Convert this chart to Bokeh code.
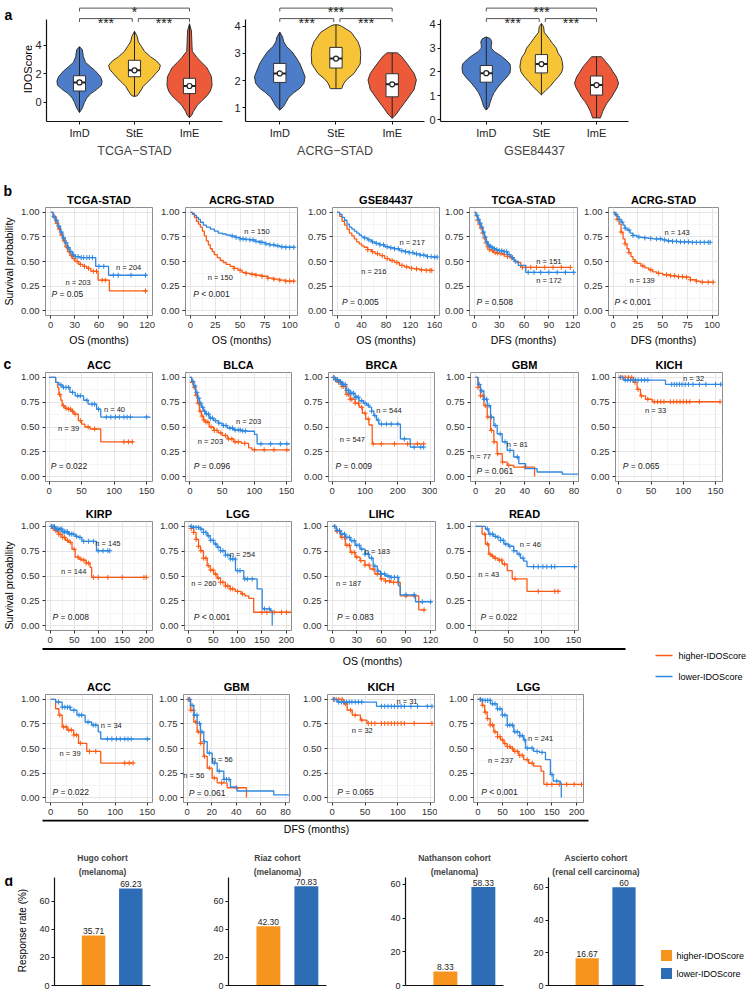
import numpy as np
from bokeh.plotting import figure
from bokeh.layouts import row, column
from bokeh.models import Range1d, FixedTicker, Title, NumeralTickFormatter
from bokeh.core.properties import value
from bokeh.embed import file_html
from bokeh.resources import INLINE

FONT = "Liberation Sans"
HI_COL = "#FC5A14"
LO_COL = "#2E88E0"
VIO_COLS = ["#4D7DC8", "#F7C438", "#EC5A3A"]
BAR_HI = "#F7941D"
BAR_LO = "#2C6DB6"

# ------------------------------------------------------------------ panel a data
VIO_GROUPS = ["ImD", "StE", "ImE"]
tcga_imd_y = [-0.7, -0.4, 0.0, 0.3, 0.6, 0.9, 1.2, 1.5, 1.8, 2.2, 2.5, 2.8, 3.2, 3.7, 3.9]
tcga_imd_w = [0.0, 0.05, 0.09, 0.13, 0.2, 0.31, 0.4, 0.41, 0.38, 0.29, 0.2, 0.11, 0.07, 0.05, 0.0]
tcga_ste_y = [0.42, 0.47, 0.8, 1.13, 1.4, 1.69, 2.0, 2.3, 2.6, 2.91, 3.2, 3.58, 3.9, 4.24, 4.6, 4.98]
tcga_ste_w = [0.0, 0.05, 0.11, 0.16, 0.23, 0.31, 0.38, 0.45, 0.47, 0.4, 0.29, 0.18, 0.13, 0.07, 0.05, 0.0]
tcga_ime_y = [-1.07, -0.9, -0.64, -0.2, 0.1, 0.47, 0.8, 1.2, 1.8, 2.1, 2.47, 2.8, 3.13, 3.58, 4.0, 5.0, 5.5]
tcga_ime_w = [0.0, 0.04, 0.07, 0.14, 0.22, 0.32, 0.38, 0.41, 0.4, 0.36, 0.31, 0.22, 0.14, 0.05, 0.045, 0.035, 0.0]
tcga_q1 = [0.8, 1.8, 0.62]
tcga_med = [1.4, 2.25, 1.15]
tcga_q3 = [1.87, 2.95, 1.69]
tcga_sig = ["***", "***", "*"]

acrg_imd_y = [0.91, 1.05, 1.2, 1.38, 1.55, 1.72, 1.9, 2.14, 2.35, 2.61, 2.85, 3.08, 3.25, 3.43, 3.6, 3.78]
acrg_imd_w = [0.0, 0.07, 0.11, 0.16, 0.25, 0.36, 0.43, 0.45, 0.41, 0.36, 0.29, 0.21, 0.12, 0.07, 0.05, 0.0]
acrg_ste_y = [1.7, 1.9, 2.05, 2.26, 2.61, 2.96, 3.2, 3.43, 3.78, 4.0, 4.05]
acrg_ste_w = [0.1, 0.14, 0.2, 0.32, 0.43, 0.44, 0.43, 0.39, 0.27, 0.1, 0.04]
acrg_ime_y = [0.61, 0.75, 0.96, 1.32, 1.67, 2.02, 2.26, 2.61, 2.9, 3.02]
acrg_ime_w = [0.0, 0.07, 0.14, 0.27, 0.39, 0.43, 0.39, 0.27, 0.16, 0.09]
acrg_q1 = [1.93, 2.46, 1.4]
acrg_med = [2.26, 2.81, 1.86]
acrg_q3 = [2.63, 3.22, 2.25]
acrg_sig = ["***", "***", "***"]

gse_imd_y = [0.4, 0.55, 0.73, 0.93, 1.13, 1.33, 1.53, 1.75, 1.96, 2.15, 2.33, 2.5, 2.67, 2.85, 3.0, 3.1, 3.27, 3.4, 3.47]
gse_imd_w = [0.0, 0.05, 0.07, 0.1, 0.14, 0.2, 0.27, 0.36, 0.43, 0.44, 0.43, 0.36, 0.27, 0.15, 0.09, 0.09, 0.1, 0.07, 0.0]
gse_ste_y = [1.04, 1.2, 1.4, 1.6, 1.8, 2.0, 2.2, 2.4, 2.6, 2.8, 3.0, 3.2, 3.4, 3.67, 3.9, 4.03]
gse_ste_w = [0.0, 0.07, 0.16, 0.23, 0.31, 0.37, 0.39, 0.38, 0.36, 0.3, 0.27, 0.2, 0.14, 0.05, 0.04, 0.0]
gse_ime_y = [0.07, 0.2, 0.33, 0.53, 0.73, 0.93, 1.13, 1.33, 1.53, 1.8, 2.0, 2.2, 2.45, 2.64]
gse_ime_w = [0.07, 0.09, 0.11, 0.15, 0.2, 0.27, 0.32, 0.37, 0.4, 0.36, 0.3, 0.25, 0.16, 0.09]
gse_q1 = [1.57, 1.96, 1.03]
gse_med = [1.95, 2.33, 1.45]
gse_q3 = [2.27, 2.73, 1.83]
gse_sig = ["***", "***", "***"]

# ------------------------------------------------------------------ panel b data (KM)
tcga_os_hi_t = [0, 3, 6, 9, 12, 15, 18, 21, 24, 27, 30, 35, 40, 45, 50, 59, 73, 120]
tcga_os_hi_s = [1, 0.95, 0.89, 0.83, 0.77, 0.71, 0.65, 0.6, 0.56, 0.53, 0.5, 0.47, 0.45, 0.43, 0.4, 0.31, 0.2, 0.2]
tcga_os_hi_c = [5, 8, 11, 14, 17, 20, 23, 26, 29, 33, 37, 42, 47, 53, 57, 64, 68, 118]
tcga_os_lo_t = [0, 3, 6, 9, 12, 15, 18, 21, 24, 27, 30, 36, 56, 72, 120]
tcga_os_lo_s = [1, 0.96, 0.92, 0.86, 0.8, 0.74, 0.69, 0.64, 0.6, 0.57, 0.55, 0.54, 0.45, 0.36, 0.36]
tcga_os_lo_c = [4, 7, 10, 13, 16, 19, 22, 25, 28, 31, 34, 38, 41, 45, 48, 52, 60, 66, 78, 84, 100, 118]

acrg_os_hi_t = [0, 2, 4, 6, 8, 10, 12, 14, 16, 18, 20, 22, 24, 27, 30, 33, 36, 40, 44, 48, 52, 56, 60, 66, 72, 78, 84, 90, 96, 105]
acrg_os_hi_s = [1, 0.98, 0.95, 0.91, 0.88, 0.85, 0.81, 0.76, 0.71, 0.67, 0.63, 0.6, 0.57, 0.54, 0.51, 0.49, 0.47, 0.45, 0.43, 0.41, 0.39, 0.38, 0.37, 0.36, 0.35, 0.33, 0.32, 0.31, 0.3, 0.3]
acrg_os_hi_c = [44, 50, 56, 62, 66, 72, 78, 84, 90, 96, 100, 104]
acrg_os_lo_t = [0, 2, 4, 6, 8, 10, 13, 16, 20, 24, 28, 32, 36, 40, 45, 50, 55, 60, 65, 70, 75, 80, 85, 90, 95, 105]
acrg_os_lo_s = [1, 0.99, 0.97, 0.95, 0.93, 0.9, 0.87, 0.85, 0.83, 0.81, 0.79, 0.78, 0.77, 0.76, 0.745, 0.73, 0.725, 0.72, 0.705, 0.695, 0.68, 0.67, 0.66, 0.65, 0.645, 0.645]
acrg_os_lo_c = [42, 46, 50, 53, 56, 60, 63, 66, 70, 72, 76, 80, 84, 88, 92, 96, 100, 104]

gse_os_hi_t = [0, 4, 8, 12, 16, 20, 24, 28, 32, 36, 40, 44, 50, 56, 62, 70, 78, 86, 94, 102, 110, 118, 126, 135, 145, 155]
gse_os_hi_s = [1, 0.96, 0.91, 0.87, 0.83, 0.79, 0.76, 0.73, 0.7, 0.68, 0.66, 0.645, 0.62, 0.6, 0.58, 0.56, 0.53, 0.51, 0.49, 0.46, 0.445, 0.43, 0.425, 0.415, 0.41, 0.41]
gse_os_hi_c = [50, 58, 66, 74, 82, 90, 98, 106, 114, 122, 130, 138, 146, 152, 155]
gse_os_lo_t = [0, 4, 8, 12, 16, 20, 24, 28, 32, 36, 40, 44, 50, 56, 62, 70, 78, 86, 94, 102, 110, 118, 126, 136, 146, 156, 164]
gse_os_lo_s = [1, 0.98, 0.95, 0.92, 0.88, 0.85, 0.83, 0.81, 0.79, 0.77, 0.75, 0.74, 0.72, 0.7, 0.685, 0.67, 0.65, 0.64, 0.63, 0.61, 0.6, 0.59, 0.577, 0.565, 0.55, 0.545, 0.545]
gse_os_lo_c = [45, 52, 58, 64, 70, 76, 82, 88, 94, 100, 106, 112, 118, 124, 130, 136, 142, 148, 154, 160, 164]

tcga_dfs_hi_t = [0, 2, 4, 6, 8, 10, 12, 14, 16, 18, 20, 23, 26, 30, 35, 40, 44, 48, 52, 56, 116]
tcga_dfs_hi_s = [1, 0.96, 0.92, 0.88, 0.84, 0.79, 0.74, 0.69, 0.65, 0.62, 0.61, 0.59, 0.585, 0.58, 0.57, 0.55, 0.537, 0.5, 0.49, 0.44, 0.44]
tcga_dfs_hi_c = [4, 6, 8, 10, 12, 14, 16, 18, 22, 25, 28, 32, 36, 40, 45, 58, 62, 68, 75, 85, 95, 105, 116]
tcga_dfs_lo_t = [0, 2, 4, 6, 8, 10, 12, 14, 16, 18, 20, 23, 26, 30, 35, 40, 44, 48, 53, 62, 122]
tcga_dfs_lo_s = [1, 0.97, 0.93, 0.89, 0.85, 0.8, 0.75, 0.7, 0.67, 0.655, 0.645, 0.63, 0.62, 0.61, 0.6, 0.57, 0.54, 0.5, 0.46, 0.39, 0.39]
tcga_dfs_lo_c = [3, 5, 7, 9, 11, 13, 15, 17, 19, 21, 24, 27, 30, 33, 36, 39, 42, 46, 50, 65, 72, 80, 90, 100, 110, 120]

acrg_dfs_hi_t = [0, 2, 4, 6, 8, 10, 12, 14, 16, 18, 20, 22, 24, 28, 32, 36, 40, 44, 50, 58, 64, 71, 78, 84, 88, 101.6]
acrg_dfs_hi_s = [1, 0.97, 0.93, 0.88, 0.8, 0.73, 0.68, 0.63, 0.59, 0.55, 0.52, 0.5, 0.48, 0.455, 0.435, 0.415, 0.395, 0.38, 0.365, 0.355, 0.345, 0.34, 0.314, 0.3, 0.29, 0.29]
acrg_dfs_hi_c = [4, 8, 12, 16, 22, 30, 38, 46, 54, 58, 62, 66, 70, 74, 78, 84, 90, 96, 101]
acrg_dfs_lo_t = [0, 2, 4, 6, 8, 10, 12, 14, 17, 20, 24, 28, 32, 36, 40, 44, 50, 54, 60, 66, 72, 78, 98]
acrg_dfs_lo_s = [1, 0.98, 0.96, 0.93, 0.9, 0.87, 0.84, 0.82, 0.79, 0.765, 0.75, 0.745, 0.74, 0.735, 0.73, 0.73, 0.72, 0.71, 0.705, 0.7, 0.7, 0.695, 0.695]
acrg_dfs_lo_c = [3, 6, 9, 12, 16, 20, 26, 32, 38, 44, 48, 52, 56, 60, 64, 68, 72, 76, 80, 84, 88, 92, 96, 98]

# ------------------------------------------------------------------ panel c data (OS, pan-cancer)
acc_os_hi_t = [0, 10, 13, 15, 18, 20, 24, 28, 34, 38, 45, 50, 55, 63, 79.5, 130]
acc_os_hi_s = [1, 0.95, 0.9, 0.83, 0.77, 0.715, 0.69, 0.68, 0.66, 0.63, 0.565, 0.53, 0.5, 0.48, 0.35, 0.35]
acc_os_hi_c = [16, 22, 26, 30, 33, 36, 40, 48, 60, 70, 115, 122, 128]
acc_os_lo_t = [0, 10, 15, 20, 32, 40, 53, 60, 73, 79.5, 156]
acc_os_lo_s = [1, 0.95, 0.925, 0.9, 0.85, 0.815, 0.77, 0.73, 0.68, 0.6, 0.6]
acc_os_lo_c = [18, 22, 26, 30, 36, 44, 48, 58, 66, 70, 76, 88, 95, 102, 108, 115, 120, 125, 150]

blca_os_hi_t = [0, 3, 6, 9, 12, 15, 18, 21, 24, 30, 37, 44, 50, 58, 68, 80, 91, 96, 155]
blca_os_hi_s = [1, 0.95, 0.9, 0.82, 0.74, 0.66, 0.61, 0.57, 0.55, 0.5, 0.465, 0.44, 0.415, 0.38, 0.35, 0.335, 0.29, 0.27, 0.27]
blca_os_hi_c = [4, 7, 10, 13, 16, 19, 22, 25, 28, 33, 38, 42, 48, 55, 60, 65, 70, 75, 85, 100, 115, 130, 150]
blca_os_lo_t = [0, 3, 6, 9, 12, 15, 18, 21, 24, 30, 37, 44, 50, 58, 68, 80, 89, 100, 104, 155]
blca_os_lo_s = [1, 0.96, 0.915, 0.85, 0.79, 0.74, 0.7, 0.66, 0.63, 0.59, 0.565, 0.54, 0.515, 0.49, 0.47, 0.46, 0.457, 0.425, 0.33, 0.33]
blca_os_lo_c = [5, 8, 11, 14, 17, 20, 23, 26, 29, 32, 35, 40, 45, 52, 56, 62, 66, 70, 75, 78, 82, 86, 110, 125, 140, 150]

brca_os_hi_t = [0, 10, 20, 30, 42, 55, 70, 82, 92, 102, 112, 122, 279]
brca_os_hi_s = [1, 0.975, 0.95, 0.91, 0.83, 0.78, 0.74, 0.7, 0.64, 0.58, 0.52, 0.33, 0.33]
brca_os_hi_c = [5, 10, 15, 20, 25, 30, 35, 40, 45, 50, 55, 60, 70, 80, 90, 100, 110, 125, 150, 190, 230, 260, 279]
brca_os_lo_t = [0, 10, 20, 30, 42, 55, 70, 82, 95, 105, 112, 120, 127, 135, 142, 208, 238, 279]
brca_os_lo_s = [1, 0.98, 0.96, 0.93, 0.87, 0.84, 0.8, 0.765, 0.74, 0.72, 0.7, 0.66, 0.615, 0.57, 0.53, 0.38, 0.297, 0.297]
brca_os_lo_c = [5, 10, 15, 20, 25, 30, 35, 40, 45, 50, 55, 60, 65, 70, 75, 80, 90, 100, 110, 120, 130, 140, 150, 165, 180, 200, 220, 250, 270, 279]

gbm_os_hi_t = [0, 2, 4, 6.8, 9.5, 12.2, 14.9, 17.6, 21.7, 25.7, 31, 48]
gbm_os_hi_s = [1, 0.9, 0.815, 0.715, 0.6, 0.465, 0.35, 0.23, 0.146, 0.113, 0.096, 0.0]
gbm_os_hi_c = [2, 4, 6, 8, 10, 13, 15, 18, 22, 27, 40]
gbm_os_lo_t = [0, 2, 4, 6.8, 9.5, 12.2, 14.9, 17.6, 21.7, 25.7, 31, 35.2, 40.7, 50, 70.5, 84]
gbm_os_lo_s = [1, 0.93, 0.865, 0.78, 0.715, 0.6, 0.515, 0.43, 0.35, 0.264, 0.197, 0.13, 0.08, 0.046, 0.025, 0.025]
gbm_os_lo_c = [3, 5, 7, 9, 11, 13, 16, 20, 24, 28, 34]

kich_os_hi_t = [0, 23, 28.4, 33.6, 41.4, 51.8, 157]
kich_os_hi_s = [1, 0.95, 0.88, 0.815, 0.78, 0.755, 0.755]
kich_os_hi_c = [2, 6, 10, 15, 20, 25, 30, 35, 45, 55, 60, 65, 70, 80, 85, 90, 95, 100, 105, 110, 125, 157]
kich_os_lo_t = [0, 7.8, 72.4, 160]
kich_os_lo_s = [1, 0.973, 0.93, 0.93]
kich_os_lo_c = [3, 10, 14, 18, 22, 26, 30, 35, 40, 45, 82, 86, 90, 94, 98, 103, 108, 115, 125, 135, 150, 158]

kirp_os_hi_t = [0, 5, 11.6, 18, 25, 32, 38.7, 45.5, 52, 60, 66, 75, 83, 86.3, 200]
kirp_os_hi_s = [1, 0.98, 0.957, 0.92, 0.89, 0.86, 0.84, 0.77, 0.69, 0.67, 0.66, 0.63, 0.587, 0.486, 0.486]
kirp_os_hi_c = [3, 6, 9, 12, 15, 18, 22, 26, 30, 36, 42, 50, 58, 64, 70, 75, 80, 90, 100, 120, 150, 195, 200]
kirp_os_lo_t = [0, 11.6, 25, 38.7, 52, 59, 66, 96.5, 124]
kirp_os_lo_s = [1, 0.974, 0.946, 0.923, 0.9, 0.89, 0.85, 0.755, 0.755]
kirp_os_lo_c = [3, 6, 9, 12, 15, 18, 21, 24, 27, 30, 33, 36, 40, 44, 48, 55, 62, 70, 80, 90, 100, 110, 120, 124]

lgg_os_hi_t = [0, 5, 10, 15, 20, 24, 30, 37.7, 44, 51, 58, 65, 75, 85, 95, 106.9, 115, 123, 133, 210]
lgg_os_hi_s = [1, 0.98, 0.94, 0.87, 0.8, 0.755, 0.68, 0.604, 0.56, 0.52, 0.48, 0.436, 0.4, 0.37, 0.345, 0.32, 0.3, 0.275, 0.134, 0.134]
lgg_os_hi_c = [5, 10, 15, 20, 25, 30, 35, 40, 45, 50, 55, 60, 65, 70, 75, 80, 85, 90, 100, 110, 150, 160, 175, 190, 200]
lgg_os_lo_t = [0, 10, 24, 30, 37.7, 44, 51, 58, 65, 75, 85, 95.7, 112.7, 140, 150.4, 167.4, 171]
lgg_os_lo_s = [1, 0.99, 0.974, 0.94, 0.906, 0.86, 0.823, 0.79, 0.755, 0.71, 0.672, 0.554, 0.47, 0.37, 0.168, 0.15, 0.0]
lgg_os_lo_c = [5, 10, 15, 20, 25, 30, 35, 40, 45, 50, 55, 60, 65, 70, 75, 80, 85, 90, 95, 100, 105, 115, 120, 130, 155, 165]

lihc_os_hi_t = [0, 5, 10, 16, 22, 28, 34, 40, 46, 52, 59, 65, 71, 83, 105.6, 113.8]
lihc_os_hi_s = [1, 0.95, 0.89, 0.81, 0.738, 0.69, 0.655, 0.61, 0.57, 0.52, 0.47, 0.45, 0.436, 0.3, 0.158, 0.158]
lihc_os_hi_c = [3, 6, 9, 12, 15, 18, 21, 24, 27, 30, 35, 40, 45, 50, 55, 60, 65, 70, 75, 80, 90, 100, 112]
lihc_os_lo_t = [0, 5, 10, 16, 22, 28, 34, 40, 45, 50, 55, 59, 65, 71, 81, 83, 101.6, 122]
lihc_os_lo_s = [1, 0.96, 0.923, 0.89, 0.856, 0.81, 0.772, 0.72, 0.68, 0.6, 0.55, 0.52, 0.5, 0.486, 0.4, 0.31, 0.24, 0.24]
lihc_os_lo_c = [3, 6, 9, 12, 15, 18, 21, 24, 27, 30, 33, 36, 40, 44, 48, 52, 56, 60, 64, 68, 72, 76, 80, 90, 100, 110, 120]

read_os_hi_t = [0, 10, 15, 20, 24, 27.8, 34, 40.4, 48, 55.6, 78, 128.8]
read_os_hi_s = [1, 0.923, 0.823, 0.72, 0.7, 0.68, 0.66, 0.62, 0.554, 0.47, 0.345, 0.345]
read_os_hi_c = [14, 18, 22, 26, 30, 36, 40, 44, 60, 95, 120, 125]
read_os_lo_t = [0, 15, 20, 27, 33, 38, 43, 50, 58, 63, 68, 73, 78, 154]
read_os_lo_s = [1, 0.974, 0.923, 0.9, 0.89, 0.86, 0.823, 0.8, 0.755, 0.72, 0.68, 0.65, 0.594, 0.594]
read_os_lo_c = [18, 22, 26, 30, 34, 38, 42, 46, 52, 58, 66, 72, 88, 95, 102, 108, 115, 120, 150]

# ------------------------------------------------------------------ panel c data (DFS)
acc_dfs_hi_t = [0, 7.6, 12.7, 17.8, 25.4, 35.6, 43.2, 56, 77.7, 128.6]
acc_dfs_hi_s = [1, 0.905, 0.84, 0.72, 0.688, 0.638, 0.553, 0.47, 0.352, 0.352]
acc_dfs_hi_c = [14, 20, 24, 28, 32, 36, 40, 46, 60, 70, 115, 122, 128]
acc_dfs_lo_t = [0, 7.6, 17.8, 30.5, 40.7, 53.4, 63.6, 73.8, 77.7, 155]
acc_dfs_lo_s = [1, 0.973, 0.92, 0.89, 0.84, 0.77, 0.738, 0.67, 0.597, 0.597]
acc_dfs_lo_c = [12, 18, 22, 26, 30, 36, 44, 48, 58, 66, 70, 88, 95, 102, 108, 115, 120, 125, 150]

gbm_dfs_hi_t = [0, 2.7, 5.4, 8.1, 10.8, 13.5, 16.3, 20.3, 24.4, 32.5, 48.2]
gbm_dfs_hi_s = [1, 0.89, 0.77, 0.67, 0.553, 0.42, 0.3, 0.2, 0.15, 0.1, 0.0]
gbm_dfs_hi_c = [1, 3, 5, 7, 9, 11, 14, 18, 22, 28, 40]
gbm_dfs_lo_t = [0, 2.7, 5.4, 8.1, 10.8, 13.5, 16.3, 20.3, 24.4, 29.8, 35.2, 40.6, 70.4, 83]
gbm_dfs_lo_s = [1, 0.94, 0.84, 0.755, 0.67, 0.57, 0.453, 0.352, 0.269, 0.185, 0.108, 0.067, 0.027, 0.027]
gbm_dfs_lo_c = [2, 4, 6, 8, 10, 12, 14, 18, 22, 26, 30, 32, 34]

kich_dfs_hi_t = [0, 17.7, 22.8, 30.5, 43, 53, 152]
kich_dfs_hi_s = [1, 0.955, 0.89, 0.84, 0.79, 0.755, 0.755]
kich_dfs_hi_c = [2, 6, 10, 15, 20, 28, 35, 45, 55, 60, 65, 75, 80, 85, 90, 95, 100, 105, 110, 125, 152]
kich_dfs_lo_t = [0, 7.6, 67.5, 152]
kich_dfs_lo_s = [1, 0.973, 0.93, 0.93]
kich_dfs_lo_c = [3, 10, 14, 18, 22, 26, 30, 35, 40, 45, 75, 80, 85, 90, 95, 100, 105, 110, 120, 130, 145, 152]

lgg_dfs_hi_t = [0, 8.8, 14, 19, 25, 32.4, 40, 46, 53, 59.5, 66, 72.9, 83, 93, 103, 113, 128, 133.6, 211]
lgg_dfs_hi_s = [1, 0.94, 0.87, 0.805, 0.74, 0.67, 0.62, 0.587, 0.55, 0.52, 0.5, 0.47, 0.43, 0.386, 0.35, 0.32, 0.269, 0.135, 0.135]
lgg_dfs_hi_c = [5, 10, 15, 20, 25, 30, 35, 40, 45, 50, 55, 60, 65, 70, 75, 80, 85, 90, 100, 110, 140, 150, 165, 180, 195, 210]
lgg_dfs_lo_t = [0, 10, 25.7, 39.2, 49.4, 59.5, 72.9, 85, 93, 96.6, 113, 125, 137, 147, 152.6, 167, 169]
lgg_dfs_lo_s = [1, 0.99, 0.955, 0.905, 0.84, 0.738, 0.67, 0.63, 0.587, 0.503, 0.47, 0.46, 0.386, 0.235, 0.168, 0.15, 0.0]
lgg_dfs_lo_c = [5, 10, 15, 20, 25, 30, 35, 40, 45, 50, 55, 60, 65, 70, 75, 80, 85, 90, 95, 100, 110, 120, 130, 150, 160]

KM_YTICKS = [0, 0.25, 0.5, 0.75, 1.0]
KM_YMINOR = [0.125, 0.375, 0.625, 0.875]

# ------------------------------------------------------------------ panel d data
bar_cohorts = ["Hugo cohort", "Riaz cohort", "Nathanson cohort", "Ascierto cohort"]
bar_types = ["(melanoma)", "(melanoma)", "(melanoma)", "(renal cell carcinoma)"]
bar_hi = [35.71, 42.30, 8.33, 16.67]
bar_lo = [69.23, 70.83, 58.33, 60.0]
bar_hi_lab = ["35.71", "42.30", "8.33", "16.67"]
bar_lo_lab = ["69.23", "70.83", "58.33", "60"]
bar_yticks = [0, 20, 40, 60]
legend_labels = ["higher-IDOScore", "lower-IDOScore"]


# ------------------------------------------------------------------ helpers
def canvas(w, h, top=0, bottom=0):
    """Blank figure whose frame is the strip between the given borders;
    its coordinates are pixels measured from the frame's top-left corner."""
    fh = h - top - bottom
    p = figure(width=w, height=h, x_range=Range1d(0, w), y_range=Range1d(fh, 0),
               toolbar_location=None, output_backend="svg", title=None,
               x_axis_location=None, y_axis_location=None,
               min_border=0, min_border_left=0, min_border_right=0,
               min_border_top=top, min_border_bottom=bottom)
    p.outline_line_color = None
    p.grid.visible = False
    return p


def letter(p, s, standoff):
    p.add_layout(Title(text=s, align="left", offset=3, text_font=FONT, text_font_size="14px",
                       text_font_style="bold", text_color="black", standoff=standoff), "above")


def put(p, x, y, s, size, align="left", baseline="middle", style="normal",
        angle=0.0, color="black", x_offset=0, y_offset=0):
    p.text(x=[x], y=[y], text=[s], text_font=value(FONT), text_font_size=f"{size}px",
           text_align=align, text_baseline=baseline, text_font_style=style,
           text_color=color, angle=angle, x_offset=x_offset, y_offset=y_offset)


def step_at(t, s, q):
    t = np.asarray(t, float)
    s = np.asarray(s, float)
    idx = np.searchsorted(t, np.asarray(q, float), side="right") - 1
    return s[np.clip(idx, 0, len(s) - 1)]


def km_panel(title, xr, xticks, lay, hi, lo, n_hi, n_lo, pval, xlabel=None):
    left, fw, right, top, fh, bottom = lay
    p = figure(width=left + fw + right, height=top + fh + bottom, title=title,
               x_range=Range1d(*xr), y_range=Range1d(-0.05, 1.05),
               toolbar_location=None, output_backend="svg",
               min_border_left=left, min_border_right=right,
               min_border_top=top, min_border_bottom=bottom)
    p.title.align = "center"
    p.title.text_font = FONT
    p.title.text_font_size = "11px"
    p.title.text_font_style = "bold"
    p.title.text_color = "black"
    p.title.standoff = 3
    p.outline_line_color = "#8C8C8C"
    p.outline_line_width = 1
    stp = xticks[1] - xticks[0]
    xminor = [x + stp / 2 for x in [xticks[0] - stp] + list(xticks)]
    xt = FixedTicker(ticks=list(xticks), minor_ticks=xminor)
    yt = FixedTicker(ticks=KM_YTICKS, minor_ticks=KM_YMINOR)
    p.xaxis.ticker = xt
    p.yaxis.ticker = yt
    p.xgrid.ticker = xt
    p.ygrid.ticker = yt
    p.yaxis.formatter = NumeralTickFormatter(format="0.00")
    for g in p.grid:
        g.grid_line_color = "#E6E6E6"
        g.grid_line_width = 1
        g.minor_grid_line_color = "#F2F2F2"
        g.minor_grid_line_width = 0.8
    for ax in p.axis:
        ax.axis_line_color = None
        ax.major_tick_line_color = "#333333"
        ax.major_tick_out = 3
        ax.major_tick_in = 0
        ax.minor_tick_line_color = None
        ax.major_label_text_font = FONT
        ax.major_label_text_font_size = "9.5px"
        ax.major_label_text_color = "#333333"
        ax.major_label_standoff = 2
    if xlabel:
        p.xaxis.axis_label = xlabel
        p.xaxis.axis_label_text_font = FONT
        p.xaxis.axis_label_text_font_size = "10.5px"
        p.xaxis.axis_label_text_font_style = "normal"
        p.xaxis.axis_label_text_color = "black"
        p.xaxis.axis_label_standoff = 3
    for (t, s, c), col in ((hi, HI_COL), (lo, LO_COL)):
        p.step(t, s, mode="after", line_color=col, line_width=1.3)
        p.scatter(c, step_at(t, s, c), marker="cross", size=5, line_color=col, line_width=1)
    put(p, n_hi[0], n_hi[1], n_hi[2], 7.5, align="center", color="#222222")
    put(p, n_lo[0], n_lo[1], n_lo[2], 7.5, align="center", color="#222222")
    put(p, pval[0], pval[1], "P", 8.5, style="italic", color="#222222")
    put(p, pval[0], pval[1], pval[2], 8.5, color="#222222", x_offset=8)
    return p


def violin_panel(ys, ws, q1, med, q3, sig, xr, yr, ytop, yticks, lay, xlabel):
    left, fw, right, top, fh, bottom = lay
    p = figure(width=left + fw + right, height=top + fh + bottom, title=None,
               x_range=Range1d(*xr), y_range=Range1d(*yr),
               toolbar_location=None, output_backend="svg",
               min_border_left=left, min_border_right=right,
               min_border_top=top, min_border_bottom=bottom)
    p.outline_line_color = None
    p.grid.visible = False
    p.xaxis.ticker = FixedTicker(ticks=[1, 2, 3])
    p.xaxis.major_label_overrides = {i + 1: g for i, g in enumerate(VIO_GROUPS)}
    p.yaxis.ticker = FixedTicker(ticks=yticks)
    p.yaxis.bounds = (yr[0], ytop)
    for ax in p.axis:
        ax.axis_line_color = "#111111"
        ax.axis_line_width = 1.2
        ax.major_tick_line_color = "#111111"
        ax.major_tick_out = 3
        ax.major_tick_in = 0
        ax.minor_tick_line_color = None
        ax.major_label_text_font = FONT
        ax.major_label_text_font_size = "11px"
        ax.major_label_text_color = "#222222"
        ax.major_label_standoff = 2
    p.xaxis.axis_label = xlabel
    p.xaxis.axis_label_text_font = FONT
    p.xaxis.axis_label_text_font_size = "12.5px"
    p.xaxis.axis_label_text_font_style = "normal"
    p.xaxis.axis_label_standoff = 2
    bw = 0.11
    for i, (y, w) in enumerate(zip(ys, ws)):
        c = i + 1
        y = np.asarray(y, float)
        w = np.asarray(w, float)
        p.patch(np.concatenate([c - w, (c + w)[::-1]]), np.concatenate([y, y[::-1]]),
                fill_color=VIO_COLS[i], line_color="#333333", line_width=1)
        p.segment(x0=[c], y0=[y.min()], x1=[c], y1=[y.max()], line_color="#222222", line_width=1)
        p.quad(left=[c - bw], right=[c + bw], bottom=[q1[i]], top=[q3[i]],
               fill_color="white", line_color="#333333", line_width=1)
        p.segment(x0=[c - bw], y0=[med[i]], x1=[c + bw], y1=[med[i]], line_color="#222222", line_width=2)
        p.scatter([c], [med[i]], marker="circle", size=5, fill_color="white",
                  line_color="#222222", line_width=1.2)
    # significance brackets (lower level 19 px, upper level 8 px below the frame top)
    per_px = (yr[1] - yr[0]) / fh
    y_low = yr[1] - 19 * per_px
    y_up = yr[1] - 8 * per_px
    tip = 3.5 * per_px
    pairs = [(1.0, 1.96), (2.07, 3.0), (1.0, 3.0)]
    levels = [y_low, y_low, y_up]
    xs = [[a, a, b, b] for a, b in pairs]
    yss = [[lv - tip, lv, lv, lv - tip] for lv in levels]
    p.multi_line(xs, yss, line_color="#555555", line_width=1)
    p.text(x=[(a + b) / 2 for a, b in pairs], y=levels, text=sig,
           text_font=value(FONT), text_font_size="14px", text_align="center",
           text_baseline="alphabetic", y_offset=4, text_color="#222222")
    return p


def bar_panel(i, xr, yr, lay):
    left, fw, right, top, fh, bottom = lay
    p = figure(width=left + fw + right, height=top + fh + bottom, title=None,
               x_range=Range1d(*xr), y_range=Range1d(*yr),
               toolbar_location=None, output_backend="svg",
               min_border_left=left, min_border_right=right,
               min_border_top=top, min_border_bottom=bottom)
    p.add_layout(Title(text=bar_types[i], align="center", text_font=FONT, text_font_size="8.5px",
                       text_font_style="bold", standoff=2), "above")
    p.add_layout(Title(text=bar_cohorts[i], align="center", text_font=FONT, text_font_size="8.5px",
                       text_font_style="bold", standoff=1), "above")
    p.outline_line_color = None
    p.grid.visible = False
    p.xaxis.ticker = FixedTicker(ticks=[])
    p.yaxis.ticker = FixedTicker(ticks=bar_yticks)
    for ax in p.axis:
        ax.axis_line_color = "#111111"
        ax.axis_line_width = 1.2
        ax.major_tick_line_color = "#111111"
        ax.major_tick_out = 3
        ax.major_tick_in = 0
        ax.minor_tick_line_color = None
        ax.major_label_text_font = FONT
        ax.major_label_text_font_size = "9px"
        ax.major_label_text_color = "#222222"
        ax.major_label_standoff = 2
    p.vbar(x=[1, 2], top=[bar_hi[i], bar_lo[i]], bottom=0, width=0.63,
           fill_color=[BAR_HI, BAR_LO], line_color=None)
    p.text(x=[1, 2], y=[bar_hi[i], bar_lo[i]], text=[bar_hi_lab[i], bar_lo_lab[i]],
           text_font=value(FONT), text_font_size="8.5px", text_align="center",
           text_baseline="bottom", y_offset=-1, text_color="#222222")
    return p


# ------------------------------------------------------------------ row a  (y 0..160)
gA = canvas(32, 160, 0, 33)
put(gA, 4, 15, "a", 14, style="bold")
put(gA, 27, 72, "IDOScore", 11, align="center", angle=np.pi / 2)
v1 = violin_panel([tcga_imd_y, tcga_ste_y, tcga_ime_y], [tcga_imd_w, tcga_ste_w, tcga_ime_w],
                  tcga_q1, tcga_med, tcga_q3, tcga_sig, (0.4, 3.6), (-1.333, 7.133), 5.8,
                  [0, 2, 4], (12, 178, 8, 0, 127, 33), "TCGA\u2212STAD")
v2 = violin_panel([acrg_imd_y, acrg_ste_y, acrg_ime_y], [acrg_imd_w, acrg_ste_w, acrg_ime_w],
                  acrg_q1, acrg_med, acrg_q3, acrg_sig, (0.39, 3.575), (0.491, 4.947), 4.246,
                  [1, 2, 3, 4], (15, 179, 2, 0, 127, 33), "ACRG\u2212STAD")
v3 = violin_panel([gse_imd_y, gse_ste_y, gse_ime_y], [gse_imd_w, gse_ste_w, gse_ime_w],
                  gse_q1, gse_med, gse_q3, gse_sig, (0.169, 3.58), (-0.08, 5.0), 4.2,
                  [0, 1, 2, 3, 4], (12, 190, 5, 0, 127, 33), "GSE84437")
rowA = row(gA, v1, v2, v3)

# ------------------------------------------------------------------ row b  (y 160..348)
LB = (47, 108, 33)
gB = canvas(18, sum(LB), LB[0], LB[2])
letter(gB, "b", 17)
put(gB, 8, 54, "Survival probability", 10.5, align="center", angle=np.pi / 2)
b1 = km_panel("TCGA-STAD", (-6.5, 126.7), [0, 30, 60, 90, 120], (26, 108, 3) + LB,
              (tcga_os_hi_t, tcga_os_hi_s, tcga_os_hi_c), (tcga_os_lo_t, tcga_os_lo_s, tcga_os_lo_c),
              (34, 0.29, "n = 203"), (97, 0.44, "n = 204"), (0.9, 0.17, "= 0.05"), "OS (months)")
b2 = km_panel("ACRG-STAD", (-5.0, 107.8), [0, 25, 50, 75, 100], (30, 112, 3) + LB,
              (acrg_os_hi_t, acrg_os_hi_s, acrg_os_hi_c), (acrg_os_lo_t, acrg_os_lo_s, acrg_os_lo_c),
              (30, 0.34, "n = 150"), (67, 0.81, "n = 150"), (2.7, 0.17, "< 0.001"), "OS (months)")
b3 = km_panel("GSE84437", (-7.7, 167.7), [0, 40, 80, 120, 160], (32, 107, 3) + LB,
              (gse_os_hi_t, gse_os_hi_s, gse_os_hi_c), (gse_os_lo_t, gse_os_lo_s, gse_os_lo_c),
              (60, 0.40, "n = 216"), (123, 0.695, "n = 217"), (8, 0.09, "= 0.005"), "OS (months)")
b4 = km_panel("TCGA-STAD", (-6.0, 124.6), [0, 30, 60, 90, 120], (27, 108, 3) + LB,
              (tcga_dfs_hi_t, tcga_dfs_hi_s, tcga_dfs_hi_c), (tcga_dfs_lo_t, tcga_dfs_lo_s, tcga_dfs_lo_c),
              (90, 0.50, "n = 151"), (90, 0.31, "n = 172"), (2.4, 0.09, "= 0.508"), "DFS (months)")
b5 = km_panel("ACRG-STAD", (-4.7, 106.4), [0, 25, 50, 75, 100], (28, 110, 4) + LB,
              (acrg_dfs_hi_t, acrg_dfs_hi_s, acrg_dfs_hi_c), (acrg_dfs_lo_t, acrg_dfs_lo_s, acrg_dfs_lo_c),
              (29.3, 0.31, "n = 139"), (64.6, 0.80, "n = 143"), (1.3, 0.09, "< 0.001"), "DFS (months)")
rowB = row(gB, b1, b2, b3, b4, b5)

# ------------------------------------------------------------------ row c1 (y 348..499)
LC1 = (24, 109, 18)
gC1 = canvas(18, sum(LC1), LC1[0], LC1[2])
letter(gC1, "c", 2)
c1 = km_panel("ACC", (-5.6, 159.1), [0, 50, 100, 150], (25, 109, 3) + LC1,
              (acc_os_hi_t, acc_os_hi_s, acc_os_hi_c), (acc_os_lo_t, acc_os_lo_s, acc_os_lo_c),
              (30, 0.48, "n = 39"), (100.6, 0.675, "n = 40"), (2.4, 0.106, "= 0.022"))
c2 = km_panel("BLCA", (-6.6, 157.2), [0, 50, 100, 150], (30, 106, 3) + LC1,
              (blca_os_hi_t, blca_os_hi_s, blca_os_hi_c), (blca_os_lo_t, blca_os_lo_s, blca_os_lo_c),
              (32, 0.35, "n = 203"), (91, 0.555, "n = 203"), (6, 0.106, "= 0.096"))
c3 = km_panel("BRCA", (-11.3, 311.9), [0, 100, 200, 300], (34, 106, 3) + LC1,
              (brca_os_hi_t, brca_os_hi_s, brca_os_hi_c), (brca_os_lo_t, brca_os_lo_s, brca_os_lo_c),
              (61.5, 0.37, "n = 547"), (173, 0.67, "n = 544"), (10, 0.106, "= 0.009"))
c4 = km_panel("GBM", (-4.1, 83.7), [0, 20, 40, 60, 80], (33, 108, 3) + LC1,
              (gbm_os_hi_t, gbm_os_hi_s, gbm_os_hi_c), (gbm_os_lo_t, gbm_os_lo_s, gbm_os_lo_c),
              (4, 0.207, "n = 77"), (34, 0.32, "n = 81"), (0.8, 0.056, "= 0.061"))
c5 = km_panel("KICH", (-5.1, 160.8), [0, 50, 100, 150], (34, 107, 3) + LC1,
              (kich_os_hi_t, kich_os_hi_s, kich_os_hi_c), (kich_os_lo_t, kich_os_lo_s, kich_os_lo_c),
              (57, 0.67, "n = 33"), (116, 0.99, "n = 32"), (6.2, 0.106, "= 0.065"))
rowC1 = row(gC1, c1, c2, c3, c4, c5)

# ------------------------------------------------------------------ row c2 (y 499..647)
LC2 = (22, 109, 17)
gC2 = canvas(18, sum(LC2), LC2[0], LC2[2])
put(gC2, 8, 64, "Survival probability", 10.5, align="center", angle=np.pi / 2)
c6 = km_panel("KIRP", (-9.6, 212.8), [0, 50, 100, 150, 200], (25, 109, 3) + LC2,
              (kirp_os_hi_t, kirp_os_hi_s, kirp_os_hi_c), (kirp_os_lo_t, kirp_os_lo_s, kirp_os_lo_c),
              (49, 0.544, "n = 144"), (120, 0.833, "n = 145"), (4.7, 0.09, "= 0.008"))
c7 = km_panel("LGG", (-8.8, 210.5), [0, 50, 100, 150, 200], (29, 107, 3) + LC2,
              (lgg_os_hi_t, lgg_os_hi_s, lgg_os_hi_c), (lgg_os_lo_t, lgg_os_lo_s, lgg_os_lo_c),
              (31, 0.426, "n = 260"), (110, 0.72, "n = 254"), (10, 0.09, "< 0.001"))
c8 = km_panel("LIHC", (-5.7, 126.0), [0, 30, 60, 90, 120], (33, 108, 3) + LC2,
              (lihc_os_hi_t, lihc_os_hi_s, lihc_os_hi_c), (lihc_os_lo_t, lihc_os_lo_s, lihc_os_lo_c),
              (20, 0.426, "n = 187"), (55, 0.748, "n = 183"), (6, 0.09, "= 0.083"))
c9 = km_panel("READ", (-7.6, 156.0), [0, 50, 100, 150], (32, 108, 3) + LC2,
              (read_os_hi_t, read_os_hi_s, read_os_hi_c), (read_os_lo_t, read_os_lo_s, read_os_lo_c),
              (20, 0.52, "n = 43"), (83, 0.815, "n = 46"), (7.6, 0.09, "= 0.022"))
rowC2 = row(gC2, c6, c7, c8, c9)

stripOS = canvas(630, 30)
stripOS.line([42, 625], [1.5, 1.5], line_color="black", line_width=2)
put(stripOS, 372, 13, "OS (months)", 10.5, align="center")

# ------------------------------------------------------------------ row DFS (y 677..819)
LD = (16, 109, 17)
gDF = canvas(18, sum(LD), LD[0], LD[2])
d1 = km_panel("ACC", (-8.1, 158.1), [0, 50, 100, 150], (25, 109, 3) + LD,
              (acc_dfs_hi_t, acc_dfs_hi_s, acc_dfs_hi_c), (acc_dfs_lo_t, acc_dfs_lo_s, acc_dfs_lo_c),
              (30, 0.45, "n = 39"), (94, 0.738, "n = 34"), (2.6, 0.057, "= 0.022"))
d2 = km_panel("GBM", (-3.0, 83.2), [0, 20, 40, 60, 80], (28, 106, 3) + LD,
              (gbm_dfs_hi_t, gbm_dfs_hi_s, gbm_dfs_hi_c), (gbm_dfs_lo_t, gbm_dfs_lo_s, gbm_dfs_lo_c),
              (5.4, 0.228, "n = 56"), (28.5, 0.386, "n = 56"), (1.3, 0.05, "= 0.061"))
d3 = km_panel("KICH", (-7.2, 155.9), [0, 50, 100, 150], (35, 107, 3) + LD,
              (kich_dfs_hi_t, kich_dfs_hi_s, kich_dfs_hi_c), (kich_dfs_lo_t, kich_dfs_lo_s, kich_dfs_lo_c),
              (45.7, 0.68, "n = 32"), (114, 0.98, "n = 31"), (7.6, 0.057, "= 0.065"))
d4 = km_panel("LGG", (-8.7, 214.0), [0, 50, 100, 150, 200], (36, 110, 3) + LD,
              (lgg_dfs_hi_t, lgg_dfs_hi_s, lgg_dfs_hi_c), (lgg_dfs_lo_t, lgg_dfs_lo_s, lgg_dfs_lo_c),
              (46, 0.376, "n = 237"), (127, 0.60, "n = 241"), (6.9, 0.057, "< 0.001"))
rowDFS = row(gDF, d1, d2, d3, d4)

stripDFS = canvas(630, 19)
stripDFS.line([42, 588], [1, 1], line_color="black", line_width=2)
put(stripDFS, 316, 9, "DFS (months)", 10.5, align="center")

legC = canvas(117, 339)
legC.line([25, 42], [156, 156], line_color=HI_COL, line_width=1.5)
legC.line([25, 42], [177, 177], line_color=LO_COL, line_width=1.5)
put(legC, 48, 156, legend_labels[0], 9)
put(legC, 48, 177, legend_labels[1], 9)

mid = row(column(rowC2, stripOS, rowDFS, stripDFS), legC)

# ------------------------------------------------------------------ row d (y 838..992)
LE = (39, 108, 7)
gD = canvas(36, sum(LE), LE[0], LE[2])
put(gD, 4, 3, "d", 14, style="bold")
put(gD, 22, 53, "Response rate (%)", 10, align="center", angle=np.pi / 2)
e1 = bar_panel(0, (-0.05, 2.53), (0, 77), (16, 98, 50) + LE)
e2 = bar_panel(1, (-0.05, 2.53), (0, 77), (28, 98, 54) + LE)
e3 = bar_panel(2, (-0.05, 2.53), (0, 64), (25, 98, 27) + LE)
e4 = bar_panel(3, (-0.05, 2.53), (0, 66), (15, 98, 7) + LE)
legD = canvas(97, sum(LE), LE[0], LE[2])
legD.scatter([16], [78], marker="square", size=11, fill_color=BAR_HI, line_color=None)
legD.scatter([16], [96], marker="square", size=11, fill_color=BAR_LO, line_color=None)
put(legD, 26, 78, legend_labels[0], 9)
put(legD, 26, 96, legend_labels[1], 9)
rowD = row(gD, e1, e2, e3, e4, legD)

page = column(rowA, rowB, rowC1, mid, rowD)
open("out.html", "w").write(file_html(page, INLINE))
